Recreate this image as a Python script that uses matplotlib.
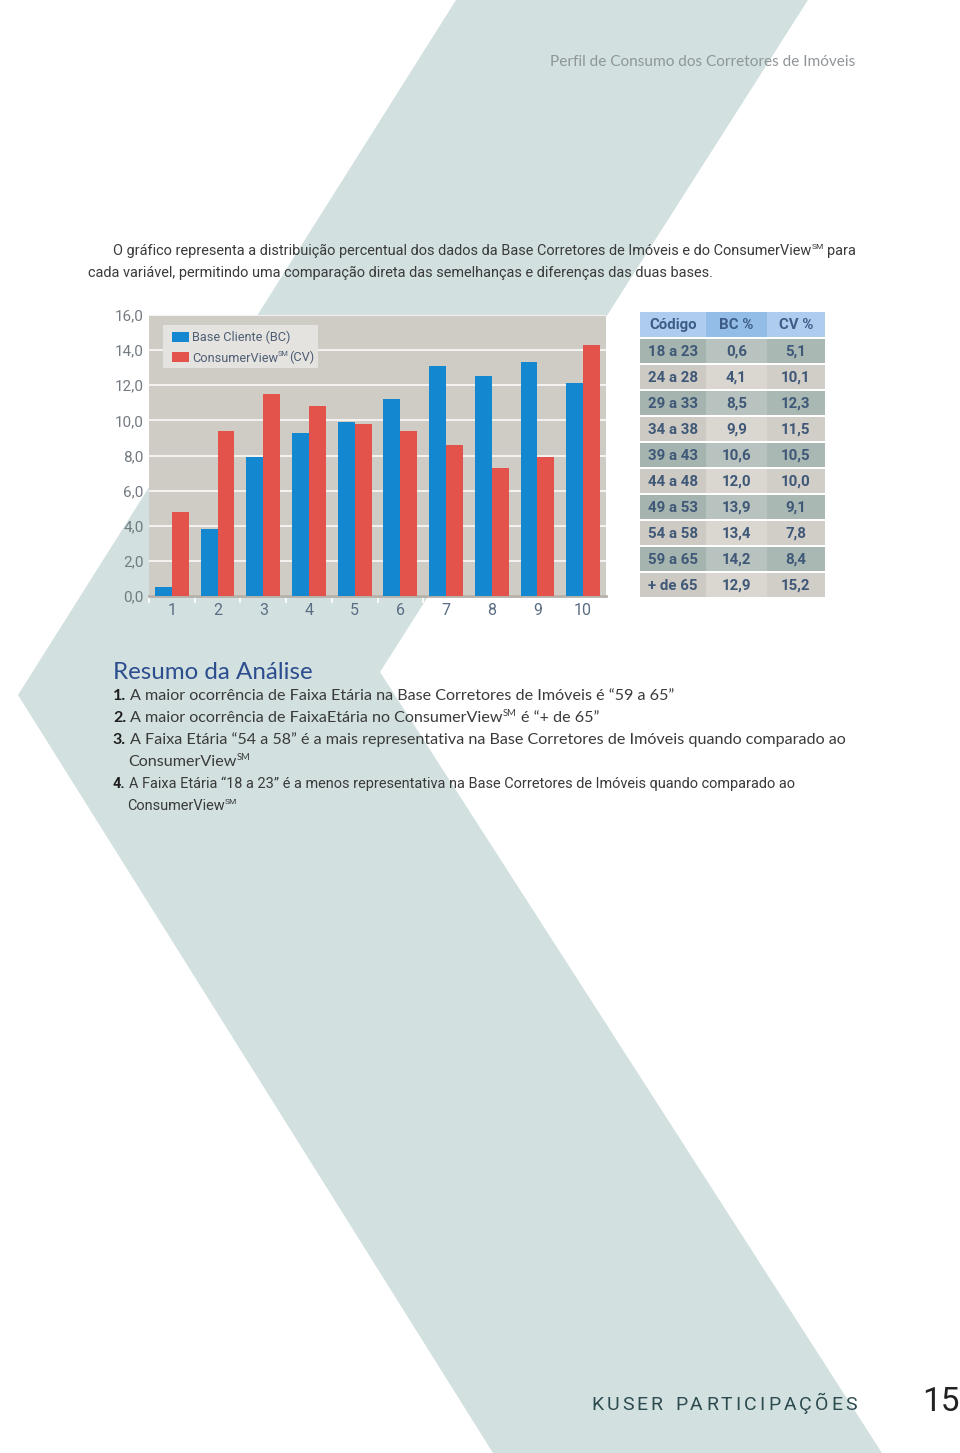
import matplotlib
matplotlib.use("Agg")
import matplotlib.pyplot as plt
from matplotlib.patches import Polygon, Rectangle
import numpy as np

W, H = 960, 1453

# bar chart values
groups = ["1", "2", "3", "4", "5", "6", "7", "8", "9", "10"]
bc_bars = [0.5, 3.8, 7.9, 9.3, 9.9, 11.2, 13.1, 12.5, 13.3, 12.1]
cv_bars = [4.8, 9.4, 11.5, 10.8, 9.8, 9.4, 8.6, 7.3, 7.9, 14.3]
y_ticks = [0, 2, 4, 6, 8, 10, 12, 14, 16]
legend_labels = [[("Base Cliente (BC)", "")],
                 [("ConsumerView", ""), ("SM", "sup"), ("(CV)", "")]]

# table next to the chart
table_header = ["Código", "BC %", "CV %"]
age_bands = ["18 a 23", "24 a 28", "29 a 33", "34 a 38", "39 a 43",
             "44 a 48", "49 a 53", "54 a 58", "59 a 65", "+ de 65"]
bc_pct = [0.6, 4.1, 8.5, 9.9, 10.6, 12.0, 13.9, 13.4, 14.2, 12.9]
cv_pct = [5.1, 10.1, 12.3, 11.5, 10.5, 10.0, 9.1, 7.8, 8.4, 15.2]

page_title = "Perfil de Consumo dos Corretores de Imóveis"
intro_lines = [
    [("O gráfico representa a distribuição percentual dos dados da Base Corretores de Imóveis e do ConsumerView", ""),
     ("SM", "sup"), (" para", "")],
    [("cada variável, permitindo uma comparação direta das semelhanças e diferenças das duas bases.", "")],
]
summary_title = "Resumo da Análise"
summary_lines = [
    [("1.", "bold"), (" A maior ocorrência de Faixa Etária na Base Corretores de Imóveis é “59 a 65”", "")],
    [("2.", "bold"), (" A maior ocorrência de FaixaEtária no ConsumerView", ""), ("SM", "sup"), (" é “+ de 65”", "")],
    [("3.", "bold"), (" A Faixa Etária “54 a 58” é a mais representativa na Base Corretores de Imóveis quando comparado ao", "")],
    [("ConsumerView", ""), ("SM", "sup")],
    [("4.", "bold"), (" A Faixa Etária “18 a 23” é a menos representativa na Base Corretores de Imóveis quando comparado ao", "")],
    [("ConsumerView", ""), ("SM", "sup")],
]
footer_brand = "KUSER PARTICIPAÇÕES"
page_number = "15"

NARROW = ["Roboto", "DejaVu Sans"]
BODY = ["Lato", "DejaVu Sans"]

BLUE = "#1388d1"
RED = "#e4534b"
PLOT_BG = "#cfcbc5"
SHAPE = "#d2e1e0"


def box(l, t, r, b):
    return [l / W, 1 - b / H, (r - l) / W, (b - t) / H]


fig = plt.figure(figsize=(W / 100, H / 100), dpi=100)
fig.patch.set_facecolor("white")

bg = fig.add_axes([0, 0, 1, 1], zorder=0)
bg.set_xlim(0, W)
bg.set_ylim(H, 0)
bg.axis("off")
# chevron shape behind the page
bg.add_patch(Polygon([(456, 0), (808, 0), (380, 672), (882, 1453), (493, 1453), (18, 695)],
                     closed=True, facecolor=SHAPE, edgecolor="none"))

fg = fig.add_axes([0, 0, 1, 1], zorder=5)
fg.set_xlim(0, W)
fg.set_ylim(H, 0)
fg.axis("off")
fg.patch.set_alpha(0)

renderer = fig.canvas.get_renderer()


def text_width(s, size, family, weight="normal"):
    t = fg.text(0, 0, s, fontsize=size, family=family, fontweight=weight)
    w = t.get_window_extent(renderer).width
    t.remove()
    return w


def rich(x, y, parts, size, family, color="#333333", bold_color=None):
    sp = text_width("x x", size, family) - text_width("xx", size, family)
    for s, style in parts:
        kw = dict(fontsize=size, family=family, color=color, va="baseline", ha="left")
        yy = y
        if style == "sup":
            kw["fontsize"] = size * 0.58
            yy = y - size * 0.55
        elif style == "bold":
            kw["fontweight"] = "bold"
            kw["color"] = bold_color or color
        lead = len(s) - len(s.lstrip(" "))
        trail = len(s) - len(s.rstrip(" "))
        x += lead * sp
        core = s.strip(" ")
        if core:
            t = fg.text(x, yy, core, **kw)
            x = t.get_window_extent(renderer).x1
        x += trail * sp
    return x


# header
fg.text(855, 66, page_title, fontsize=11.1, family=BODY, color="#8f9599", ha="right", va="baseline")

# intro paragraph, sized so the first line spans the text column
probe = intro_lines[0][0][0] + " para"
intro_size = 11 * (742 - 8) / text_width(probe, 11, NARROW) * 0.99
rich(113, 255, intro_lines[0], intro_size, NARROW, color="#3a3a3a")
rich(88, 277, intro_lines[1], intro_size, NARROW, color="#3a3a3a")

# bar chart
ax = fig.add_axes(box(149, 315, 606, 596), zorder=2)
ax.set_facecolor(PLOT_BG)
x = np.arange(len(groups))
bw = 0.37
ax.bar(x - bw / 2, bc_bars, bw, color=BLUE, zorder=3)
ax.bar(x + bw / 2, cv_bars, bw, color=RED, zorder=3)
ax.set_xlim(-0.5, len(groups) - 0.5)
ax.set_ylim(0, 16)
ax.set_yticks(y_ticks)
ax.set_yticklabels([f"{v:.1f}".replace(".", ",") for v in y_ticks],
                   fontsize=11, family=NARROW, color="#737a82")
ax.set_xticks(x)
ax.set_xticklabels(groups, fontsize=11.5, family=NARROW, color="#5a6d84")
ax.set_xticks(np.arange(-0.5, len(groups)), minor=True)
ax.tick_params(axis="both", which="major", length=0)
ax.tick_params(axis="y", pad=4)
ax.tick_params(axis="x", pad=5)
ax.tick_params(axis="x", which="minor", length=5, color="white", width=1.2)
ax.grid(axis="y", color="white", linewidth=1.1, zorder=1)
ax.set_axisbelow(True)
for side in ["top", "right", "left"]:
    ax.spines[side].set_visible(False)
ax.spines["bottom"].set_color("#b5b0a9")
ax.spines["bottom"].set_linewidth(2)

# legend box
fg.add_patch(Rectangle((163, 325), 155, 43, facecolor="#e5e3e0", edgecolor="none"))
for i, (col, parts) in enumerate(zip([BLUE, RED], legend_labels)):
    yc = 337 + 20 * i
    fg.add_patch(Rectangle((172, yc - 5), 17, 10, facecolor=col, edgecolor="none"))
    rich(192, yc + 4.5, parts, 9.2, NARROW, color="#4e5e74")

# table
col_edges = [640, 706, 767, 825]
header_cols = ["#aecdee", "#93bde6", "#aecdee"]
odd_cols = ["#a5b4af", "#b8c2be", "#aab8b3"]
even_cols = ["#cdc9c3", "#dad6d0", "#d1cdc7"]
tbl_color = "#3f5878"
top, row_h = 312, 26
for j in range(3):
    fg.add_patch(Rectangle((col_edges[j], top), col_edges[j + 1] - col_edges[j], row_h - 1.5,
                           facecolor=header_cols[j], edgecolor="none"))
    fg.text((col_edges[j] + col_edges[j + 1]) / 2, top + row_h / 2, table_header[j],
            fontsize=10.8, family=NARROW, fontweight="bold", color="#3d5d88",
            ha="center", va="center")
for i, (band, b, c) in enumerate(zip(age_bands, bc_pct, cv_pct)):
    y0 = top + row_h * (i + 1)
    cols = odd_cols if i % 2 == 0 else even_cols
    vals = [band, f"{b:.1f}".replace(".", ","), f"{c:.1f}".replace(".", ",")]
    for j in range(3):
        fg.add_patch(Rectangle((col_edges[j], y0 + 1), col_edges[j + 1] - col_edges[j], row_h - 2,
                               facecolor=cols[j], edgecolor="none"))
        fg.text((col_edges[j] + col_edges[j + 1]) / 2, y0 + row_h / 2 + 0.5, vals[j],
                fontsize=10.8, family=NARROW, fontweight="bold", color=tbl_color,
                ha="center", va="center")

# summary
fg.text(113, 679, summary_title, fontsize=17.4, family=BODY,
        color="#2c4d8e", va="baseline")
line_y = [700, 722, 744, 766, 788, 810]
line_x = [113, 113, 113, 128, 113, 127]
# item 4 is set in a narrower face in the original
line_font = [BODY, BODY, BODY, BODY, NARROW, NARROW]
line_size = [11.6, 11.6, 11.6, 11.6, 10.45, 10.45]
for xx, yy, parts, fam, sz in zip(line_x, line_y, summary_lines, line_font, line_size):
    rich(xx, yy, parts, sz, fam, color="#3a3a3a", bold_color="#1e1e1e")

# footer, letter-spaced across its span
fsize = 14
widths = [text_width(ch, fsize, NARROW) if ch != " " else 6 for ch in footer_brand]
track = (857 - 591 - sum(widths)) / (len(footer_brand) - 1)
cx = 591
for ch, w in zip(footer_brand, widths):
    if ch != " ":
        fg.text(cx, 1410, ch, fontsize=fsize, family=NARROW, color="#2c4a4f",
                ha="left", va="baseline")
    cx += w + track
fg.text(960, 1411, page_number, fontsize=24, family=NARROW, color="#222222",
        ha="right", va="baseline")

fig.savefig("out.png", dpi=100, facecolor="white")
